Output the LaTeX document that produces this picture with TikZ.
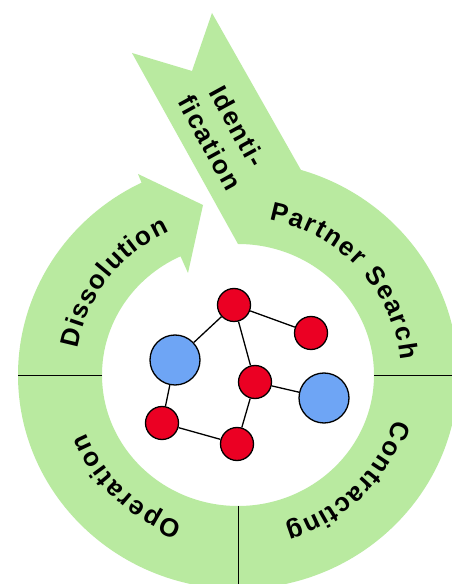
\documentclass[tikz,border=0pt]{standalone}
\usepackage{fontspec}
\setmainfont{Liberation Sans}
\usetikzlibrary{decorations.text}

\definecolor{ringgreen}{RGB}{185,234,160}
\definecolor{nodered}{RGB}{235,0,35}
\definecolor{nodeblue}{RGB}{110,165,245}
\newcommand\labelfont{\fontsize{26pt}{30pt}\selectfont\bfseries}

\tikzset{
  band/.style={fill=ringgreen, draw=none},
  divider/.style={draw=black, line width=0.9pt},
  member/.style={circle, draw=black, line width=1.3pt, inner sep=0pt},
  smallmember/.style={member, fill=nodered, minimum size=33pt},
  bigmember/.style={member, fill=nodeblue, minimum size=50pt},
  link/.style={draw=black, line width=1.3pt},
  ringtext/.style={decorate, decoration={text along path,
      text align={fit to path}, text={|\labelfont|#1}}},
}

\begin{document}
\begin{tikzpicture}[x=1pt, y=1pt]
  \useasboundingbox (0,0) rectangle (452,584);
  \fill[white] (0,0) rectangle (452,584);
  \clip (0,0) rectangle (452,584);

  \coordinate (C) at (238,209);

  % lower half of the ring: Operation and Contracting
  \fill[band] (458,209) arc[start angle=0, end angle=-180, x radius=220pt, y radius=214pt]
    -- (102,209) arc[start angle=180, end angle=360, x radius=136pt, y radius=131pt] -- cycle;

  % Dissolution band ending in an arrowhead
  \fill[band] (102,209) -- (18,209)
    arc[start angle=180, end angle=116, x radius=220pt, y radius=214pt]
    -- (138,410) -- (203,379) -- (188,311) -- (180.5,327.7)
    arc[start angle=115, end angle=180, x radius=136pt, y radius=131pt] -- cycle;

  % Identification arrow running into the Partner Search band
  \fill[band] (132,531) -- (192,513) -- (212,571) -- (300.9,414.1)
    arc[start angle=73.4, end angle=0, x radius=220pt, y radius=214pt]
    -- (374,209) arc[start angle=0, end angle=90, x radius=136pt, y radius=131pt] -- cycle;

  % phase dividers
  \coordinate (leftOut) at (18,209);
  \coordinate (leftIn) at (102,209);
  \coordinate (rightIn) at (374,209);
  \coordinate (rightOut) at (458,209);
  \coordinate (bottomIn) at (238,78);
  \coordinate (bottomOut) at (238,-6);
  \draw[divider] (leftOut) -- (leftIn);
  \draw[divider] (rightIn) -- (rightOut);
  \draw[divider] (bottomIn) -- (bottomOut);

  % phase labels along the ring
  \path[ringtext=Dissolution] (C) ++(170.3:163pt and 158pt)
    arc[start angle=170.3, end angle=114.9, x radius=163pt, y radius=158pt];
  \path[ringtext=Partner Search] (C) ++(79:163pt and 158pt)
    arc[start angle=79, end angle=5.5, x radius=163pt, y radius=158pt];
  \path[ringtext=Contracting] (C) ++(-16.5:163pt and 158pt)
    arc[start angle=-16.5, end angle=-73, x radius=163pt, y radius=158pt];
  \path[ringtext=Operation] (C) ++(-110:163pt and 158pt)
    arc[start angle=-110, end angle=-158.5, x radius=163pt, y radius=158pt];

  % Identification label, two lines along the arrow
  \coordinate (idA) at (208.4,491.8);
  \coordinate (idB) at (250.6,414.6);
  \coordinate (fiA) at (177,482.3);
  \coordinate (fiB) at (227,391.1);
  \path[ringtext=Identi-] (idA) -- (idB);
  \path[ringtext=fication] (fiA) -- (fiB);

  % network in the centre
  \node[smallmember] (r1) at (234,279) {};
  \node[smallmember] (r2) at (311,251) {};
  \node[bigmember]   (b1) at (175,224) {};
  \node[smallmember] (r3) at (255,202) {};
  \node[bigmember]   (b2) at (324,186) {};
  \node[smallmember] (r4) at (162,161) {};
  \node[smallmember] (r5) at (237,140) {};
  \draw[link] (r1) -- (r2);
  \draw[link] (r1) -- (b1);
  \draw[link] (r1) -- (r3);
  \draw[link] (r3) -- (b2);
  \draw[link] (r3) -- (r5);
  \draw[link] (b1) -- (r4);
  \draw[link] (r4) -- (r5);
\end{tikzpicture}
\end{document}
